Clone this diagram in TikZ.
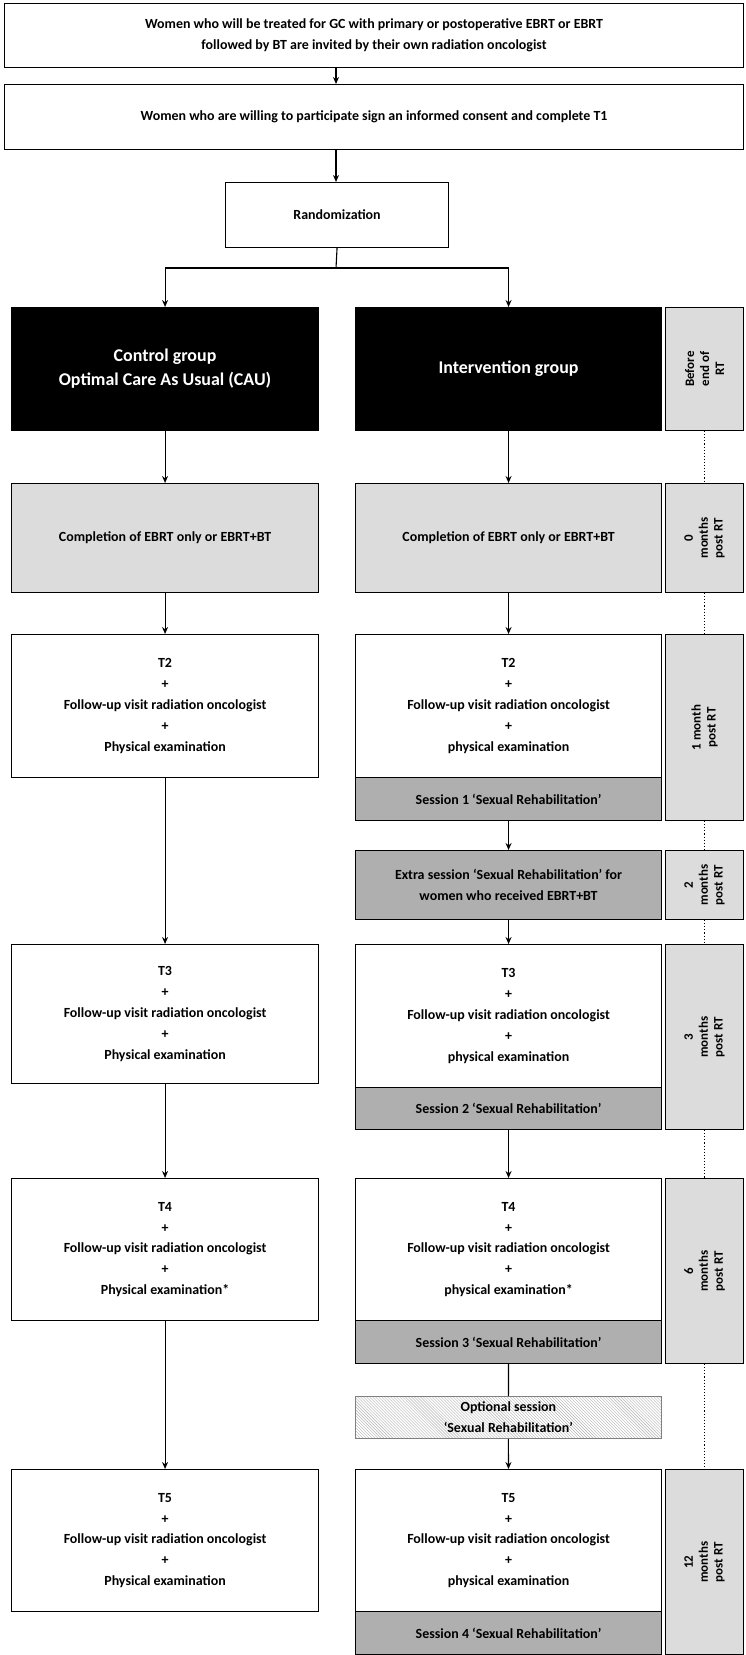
\documentclass[tikz,border=0pt]{standalone}
\usepackage{fontspec}
\setmainfont{Carlito}
\usetikzlibrary{arrows.meta,patterns}
\definecolor{lg}{HTML}{DCDCDC}
\definecolor{dg}{HTML}{AFAFAF}
\tikzset{
  box/.style={draw, line width=1.1pt, anchor=north west, align=center, inner sep=2pt, font=\fontsize{14}{21}\selectfont\bfseries},
  blackbox/.style={box, fill=black, text=white, font=\fontsize{18}{24}\selectfont\bfseries},
  graybox/.style={box, fill=lg},
  sessbox/.style={box, fill=dg},
  sidebox/.style={draw, line width=1.1pt, fill=lg, anchor=north west},
  sidetext/.style={rotate=90, align=center, font=\fontsize{13}{15}\selectfont\bfseries},
  arr/.style={line width=1.1pt, -{Stealth[length=7pt,width=6pt]}},
  ln/.style={line width=1.1pt},
  dots/.style={line width=1.1pt, dotted},
}
\newcommand{\bx}[6]{\node[#1, minimum width=#4bp, minimum height=#5bp] (#2) at (#3) {#6};}
\begin{document}
\begin{tikzpicture}[x=1bp,y=-1bp]
\useasboundingbox (0,0) rectangle (746,1655);
% top
\bx{box}{b1}{4,3}{739}{64}{Women who will be treated for GC with primary or postoperative EBRT or EBRT\\followed by BT are invited by their own radiation oncologist}
\bx{box}{b2}{4,84}{739}{65}{Women who are willing to participate sign an informed consent and complete T1}
\bx{box}{rand}{225,182}{223}{65}{Randomization}
\coordinate (b1s) at (336,67);
\coordinate (b2n) at (336,84);
\coordinate (b2s) at (336,149);
\coordinate (rn) at (336,182);
\coordinate (br) at (336,268);
\draw[arr] (b1s) -- (b2n);
\draw[arr] (b2s) -- (rn);
% columns
\bx{blackbox}{c0}{11,307}{307}{123}{Control group\\Optimal Care As Usual (CAU)}
\bx{blackbox}{i0}{355,307}{306}{123}{Intervention group}
\draw[ln] (rand.south) -- (br);
\draw[arr] (br) -| (c0.north);
\draw[arr] (br) -| (i0.north);
\bx{graybox}{c1}{11,483}{307}{109}{Completion of EBRT only or EBRT+BT}
\bx{graybox}{i1}{355,483}{306}{109}{Completion of EBRT only or EBRT+BT}
\bx{box}{c2}{11,634}{307}{143}{T2\\+\\Follow-up visit radiation oncologist\\+\\Physical examination}
\bx{box}{i2}{355,634}{306}{143}{T2\\+\\Follow-up visit radiation oncologist\\+\\physical examination}
\bx{sessbox}{i2s}{355,777}{306}{43}{Session 1 ‘Sexual Rehabilitation’}
\bx{sessbox}{ix}{355,850}{306}{69}{Extra session ‘Sexual Rehabilitation’ for\\women who received EBRT+BT}
\bx{box}{c3}{11,944}{307}{139}{T3\\+\\Follow-up visit radiation oncologist\\+\\Physical examination}
\bx{box}{i3}{355,944}{306}{143}{T3\\+\\Follow-up visit radiation oncologist\\+\\physical examination}
\bx{sessbox}{i3s}{355,1087}{306}{42}{Session 2 ‘Sexual Rehabilitation’}
\bx{box}{c4}{11,1178}{307}{142}{T4\\+\\Follow-up visit radiation oncologist\\+\\Physical examination*}
\bx{box}{i4}{355,1178}{306}{142}{T4\\+\\Follow-up visit radiation oncologist\\+\\physical examination*}
\bx{sessbox}{i4s}{355,1320}{306}{43}{Session 3 ‘Sexual Rehabilitation’}
\node[anchor=north west, minimum width=306bp, minimum height=42bp, draw=gray, line width=0.8pt, pattern=north west lines, pattern color=gray!60, align=center, font=\fontsize{14}{21}\selectfont\bfseries] (iopt) at (355,1396) {Optional session\\‘Sexual Rehabilitation’};
\bx{box}{c5}{11,1469}{307}{142}{T5\\+\\Follow-up visit radiation oncologist\\+\\Physical examination}
\bx{box}{i5}{355,1469}{306}{142}{T5\\+\\Follow-up visit radiation oncologist\\+\\physical examination}
\bx{sessbox}{i5s}{355,1611}{306}{43}{Session 4 ‘Sexual Rehabilitation’}
% arrows
\draw[arr] (c0) -- (c1);
\draw[arr] (i0) -- (i1);
\draw[arr] (c1) -- (c2);
\draw[arr] (i1) -- (i2);
\draw[arr] (c2) -- (c3);
\draw[arr] (c3) -- (c4);
\draw[arr] (c4) -- (c5);
\draw[arr] (i2s) -- (ix);
\draw[arr] (ix) -- (i3);
\draw[arr] (i3s) -- (i4);
\draw[ln] (i4s) -- (iopt);
\draw[arr] (iopt) -- (i5);
% side column
\bx{sidebox}{s0}{665,307}{78}{123}{}
\bx{sidebox}{s1}{665,483}{78}{109}{}
\bx{sidebox}{s2}{665,634}{78}{186}{}
\bx{sidebox}{s3}{665,850}{78}{69}{}
\bx{sidebox}{s4}{665,944}{78}{185}{}
\bx{sidebox}{s5}{665,1178}{78}{185}{}
\bx{sidebox}{s6}{665,1469}{78}{185}{}
\node[sidetext] (t0) at (s0) {Before\\end of\\RT};
\node[sidetext] (t1) at (s1) {0\\months\\post RT};
\node[sidetext] (t2) at (s2) {1 month\\post RT};
\node[sidetext] (t3) at (s3) {2\\months\\post RT};
\node[sidetext] (t4) at (s4) {3\\months\\post RT};
\node[sidetext] (t5) at (s5) {6\\months\\post RT};
\node[sidetext] (t6) at (s6) {12\\months\\post RT};
\draw[dots] (s0) -- (s1);
\draw[dots] (s1) -- (s2);
\draw[dots] (s2) -- (s3);
\draw[dots] (s3) -- (s4);
\draw[dots] (s4) -- (s5);
\draw[dots] (s5) -- (s6);
\end{tikzpicture}
\end{document}
